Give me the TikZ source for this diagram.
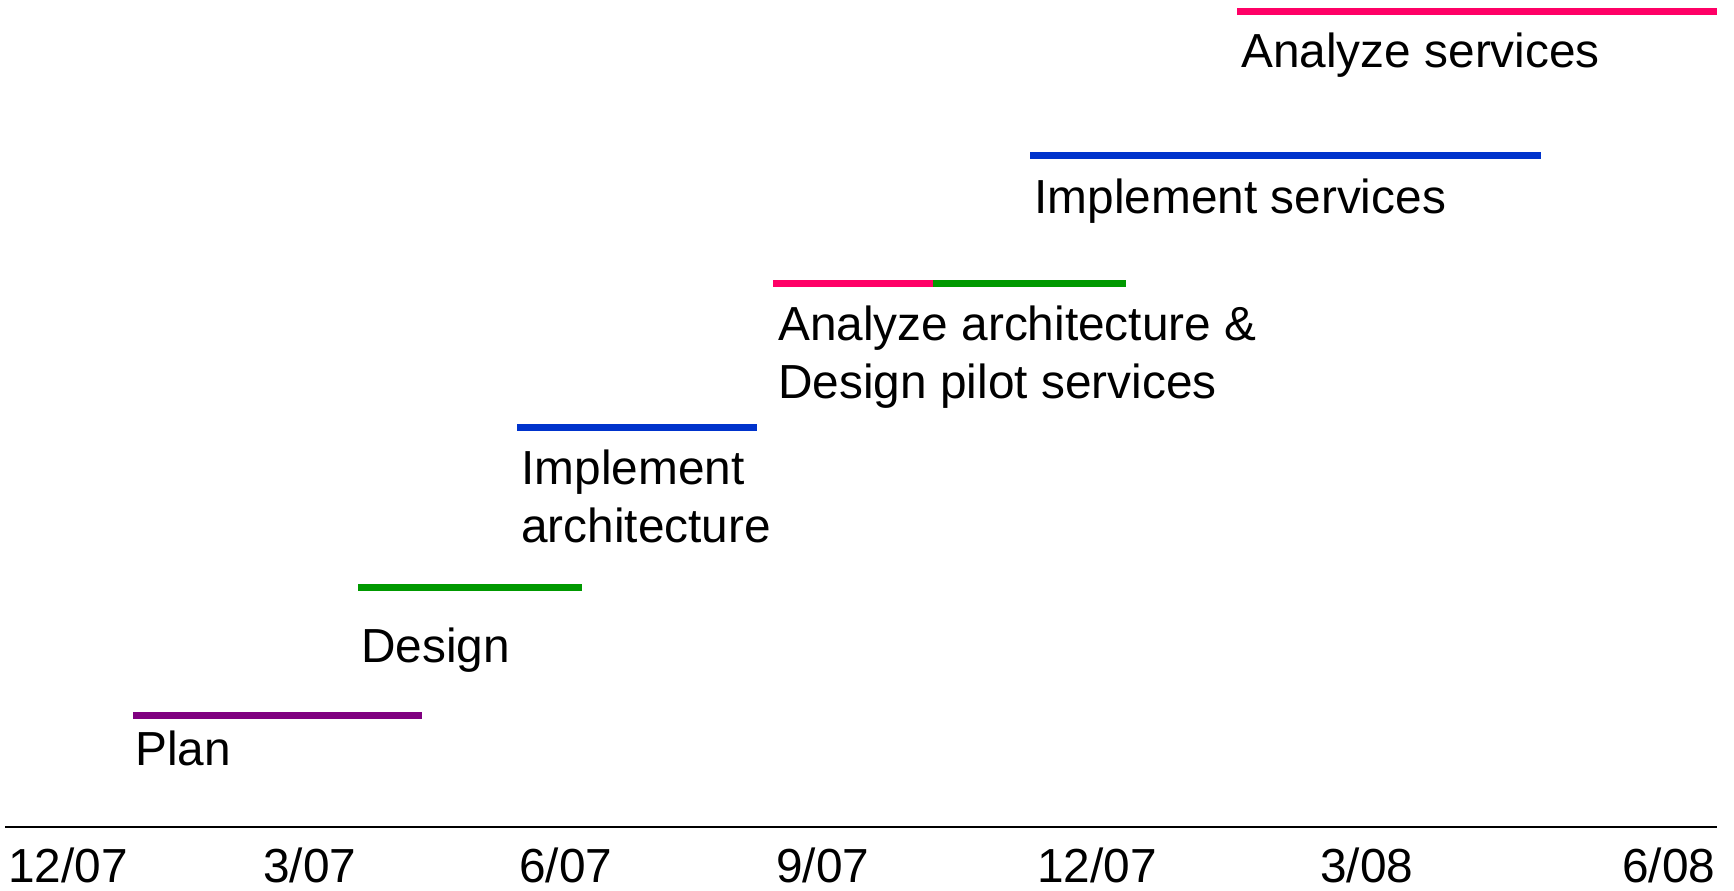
\documentclass[tikz,border=0pt]{standalone}
\usepackage{fontspec}
\setmainfont{Liberation Sans}
\usepackage{tikz}
\definecolor{planpurple}{RGB}{128,0,128}
\definecolor{designgreen}{RGB}{0,153,0}
\definecolor{implblue}{RGB}{0,51,204}
\definecolor{analyzepink}{RGB}{255,0,102}

\begin{document}
\begin{tikzpicture}[x=0.02cm,y=-0.02cm,
    bar/.style={line width=0.14cm},
    lbl/.style={anchor=north west,inner sep=0pt,align=left,font=\fontsize{27.2}{32.7}\selectfont},
    monthlbl/.style={anchor=base west,inner sep=0pt,font=\fontsize{27.2}{32.7}\selectfont}]
    \useasboundingbox (0,0) rectangle (1734,890);

    % Draw time axis
    \coordinate (axl) at (5,827);
    \coordinate (axr) at (1717,827);
    \draw[line width=0.05cm] (axl) -- (axr);

    % Draw month labels
    \foreach \x/\mo/\yr [count=\i] in {8/12/07,263/3/07,519/6/07,776/9/07,1037/12/07,1320/3/08,1622/6/08}
        \node[monthlbl] (month\i) at (\x,882) {\mo/\yr};

    % Draw phases
    \coordinate (plan-s) at (133,715);
    \coordinate (plan-e) at (422,715);
    \draw[bar,planpurple] (plan-s) -- (plan-e);
    \node[lbl] (plan) at (135,731) {Plan};

    \coordinate (design-s) at (358,587);
    \coordinate (design-e) at (582,587);
    \draw[bar,designgreen] (design-s) -- (design-e);
    \node[lbl] (design) at (361,628) {Design};

    \coordinate (implarch-s) at (517,427);
    \coordinate (implarch-e) at (757,427);
    \draw[bar,implblue] (implarch-s) -- (implarch-e);
    \node[lbl] (implarch) at (521,450) {Implement\\architecture};

    \coordinate (anarch-s) at (773,283);
    \coordinate (anarch-m) at (933,283);
    \coordinate (anarch-e) at (1126,283);
    \draw[bar,analyzepink] (anarch-s) -- (anarch-m);
    \draw[bar,designgreen] (anarch-m) -- (anarch-e);
    \node[lbl] (anarch) at (778,306) {Analyze architecture \&\\Design pilot services};

    \coordinate (implserv-s) at (1030,155);
    \coordinate (implserv-e) at (1541,155);
    \draw[bar,implblue] (implserv-s) -- (implserv-e);
    \node[lbl] (implserv) at (1034,179) {Implement services};

    \coordinate (anserv-s) at (1237,11);
    \coordinate (anserv-e) at (1717,11);
    \draw[bar,analyzepink] (anserv-s) -- (anserv-e);
    \node[lbl] (anserv) at (1241,33) {Analyze services};
\end{tikzpicture}
\end{document}
